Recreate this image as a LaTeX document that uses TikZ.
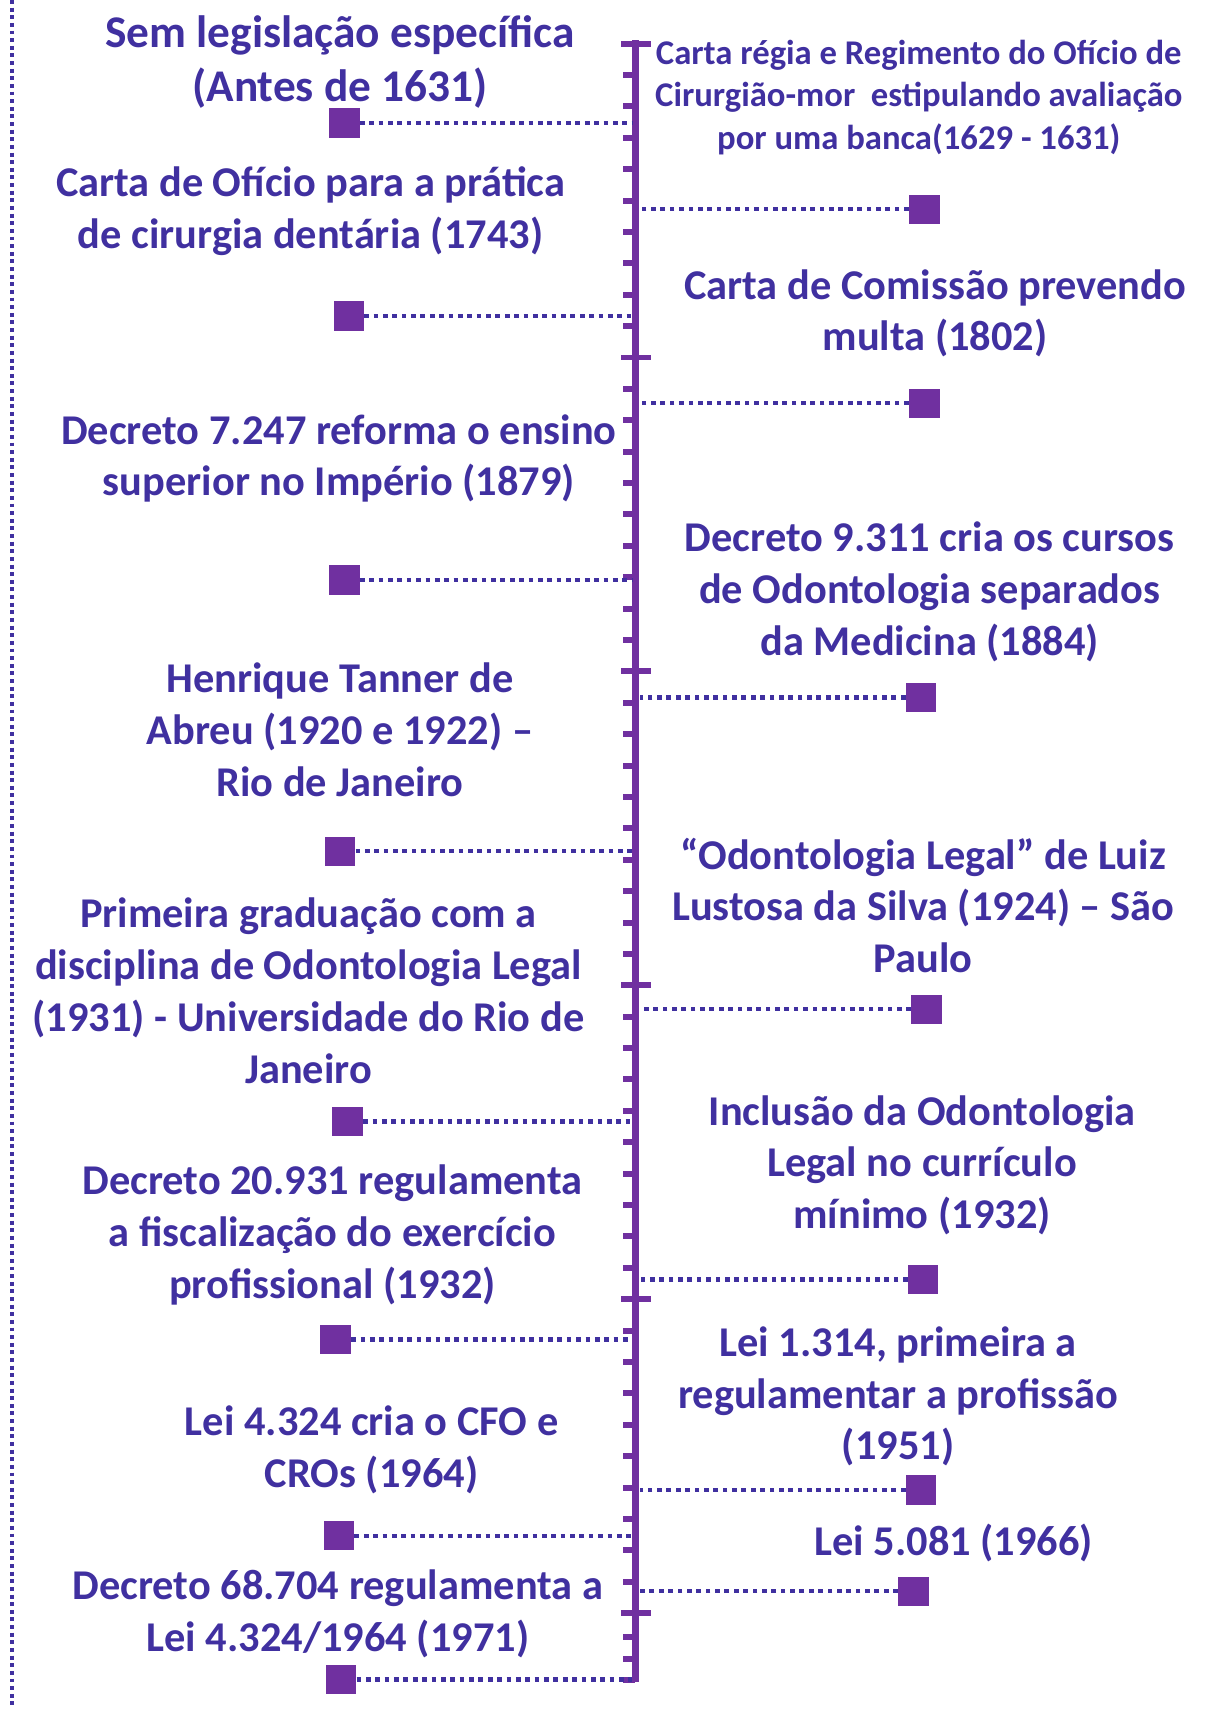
\documentclass[tikz,border=0pt]{standalone}
\usepackage{fontspec}
\setmainfont{Carlito}
\definecolor{tblue}{RGB}{64,48,160}
\definecolor{vio}{RGB}{112,48,160}
\newcommand\mytopstrut{\rule{0pt}{0.93em}}
\begin{document}
\begin{tikzpicture}[x=1pt,y=-1pt,
  bigtxt/.style={font=\fontsize{38.9}{47.5}\selectfont\bfseries, text=tblue, align=center, inner sep=0pt, anchor=north},
  hugetxt/.style={font=\fontsize{41.6}{49}\selectfont\bfseries, text=tblue, align=center, inner sep=0pt, anchor=north},
  smalltxt/.style={font=\fontsize{31.8}{39}\selectfont\bfseries, text=tblue, align=center, inner sep=0pt, anchor=north},
  sq/.style={fill=vio, minimum width=28pt, minimum height=27pt, inner sep=0pt},
  dotline/.style={draw=tblue, line width=4pt, dash pattern=on 4.3pt off 4.3pt},
  borderline/.style={draw=tblue, line width=3pt, dash pattern=on 3.6pt off 3.4pt},
  axisline/.style={draw=vio, line width=6.5pt},
  ticksmall/.style={draw=vio, line width=5.5pt},
]
\useasboundingbox (0,0) rectangle (1108,1568);
% left dotted border
\coordinate (bt) at (11,0);
\coordinate (bb) at (11,1568);
\draw[borderline] (bt) -- (bb);
% axis
\coordinate (axtop) at (583,37);
\coordinate (axbot) at (583,1543);
\coordinate (axL) at (580,0);
\coordinate (axR) at (587,0);
\draw[axisline] (axtop) -- (axbot);
\foreach \k in {0,...,50}{
  \pgfmathsetmacro\yy{40+28.8*\k}
  \draw[ticksmall] (572,\yy) -- (583,\yy);
}
\foreach \k in {0,10,...,50}{
  \pgfmathsetmacro\yy{40+28.8*\k}
  \draw[ticksmall] (570,\yy) -- (597,\yy);
}
\foreach \yy in {1502,1522,1541}{
  \draw[ticksmall] (572,\yy) -- (583,\yy);
}
% left texts
\node[hugetxt] (l1) at (312,5) {\mytopstrut Sem legislação específica\\(Antes de 1631)};
\node[bigtxt] (l2) at (285,144) {\mytopstrut Carta de Ofício para a prática\\de cirurgia dentária (1743)};
\node[bigtxt] (l3) at (311,371) {\mytopstrut Decreto 7.247 reforma o ensino\\superior no Império (1879)};
\node[bigtxt] (l4) at (312,599) {\mytopstrut Henrique Tanner de\\Abreu (1920 e 1922) –\\Rio de Janeiro};
\node[bigtxt] (l5) at (283,815) {\mytopstrut Primeira graduação com a\\disciplina de Odontologia Legal\\(1931) - Universidade do Rio de\\Janeiro};
\node[bigtxt] (l6) at (305,1060) {\mytopstrut Decreto 20.931 regulamenta\\a fiscalização do exercício\\profissional (1932)};
\node[bigtxt] (l7) at (341,1281) {\mytopstrut Lei 4.324 cria o CFO e\\CROs (1964)};
\node[bigtxt] (l8) at (310,1431) {\mytopstrut Decreto 68.704 regulamenta a\\Lei 4.324/1964 (1971)};
% right texts
\node[smalltxt] (r1) at (843,29) {\mytopstrut Carta régia e Regimento do Ofício de\\Cirurgião-mor\ \ estipulando avaliação\\por uma banca(1629 - 1631)};
\node[bigtxt] (r2) at (858,238) {\mytopstrut Carta de Comissão prevendo\\multa (1802)};
\node[bigtxt] (r3) at (853,470) {\mytopstrut Decreto 9.311 cria os cursos\\de Odontologia separados\\da Medicina (1884)};
\node[bigtxt] (r4) at (847,761) {\mytopstrut “Odontologia Legal” de Luiz\\Lustosa da Silva (1924) – São\\Paulo};
\node[bigtxt] (r5) at (846,996) {\mytopstrut Inclusão da Odontologia\\Legal no currículo\\mínimo (1932)};
\node[bigtxt] (r6) at (824,1208) {\mytopstrut Lei 1.314, primeira a\\regulamentar a profissão\\(1951)};
\node[bigtxt] (r7) at (875,1391) {\mytopstrut Lei 5.081 (1966)};
% left squares
\node[sq] (s1) at (316,113) {};
\node[sq] (s2) at (320,290) {};
\node[sq] (s3) at (316,532) {};
\node[sq] (s4) at (312,781) {};
\node[sq] (s5) at (319,1029) {};
\node[sq] (s6) at (308,1229) {};
\node[sq] (s7) at (311,1409) {};
\node[sq] (s8) at (313,1541) {};
% right squares
\node[sq] (q1) at (848,192) {};
\node[sq] (q2) at (848,370) {};
\node[sq] (q3) at (845,640) {};
\node[sq] (q4) at (850,926) {};
\node[sq] (q5) at (847,1174) {};
\node[sq] (q6) at (845,1367) {};
\node[sq] (q7) at (838,1460) {};
% connectors
\foreach \s in {s1,s2,s3,s4,s5,s6,s7,s8}{
  \draw[dotline] (\s.east) -- (\s.east -| axL);
}
\foreach \s in {q1,q2,q3,q4,q5,q6,q7}{
  \draw[dotline] (\s.west) -- (\s.west -| axR);
}
\end{tikzpicture}
\end{document}
